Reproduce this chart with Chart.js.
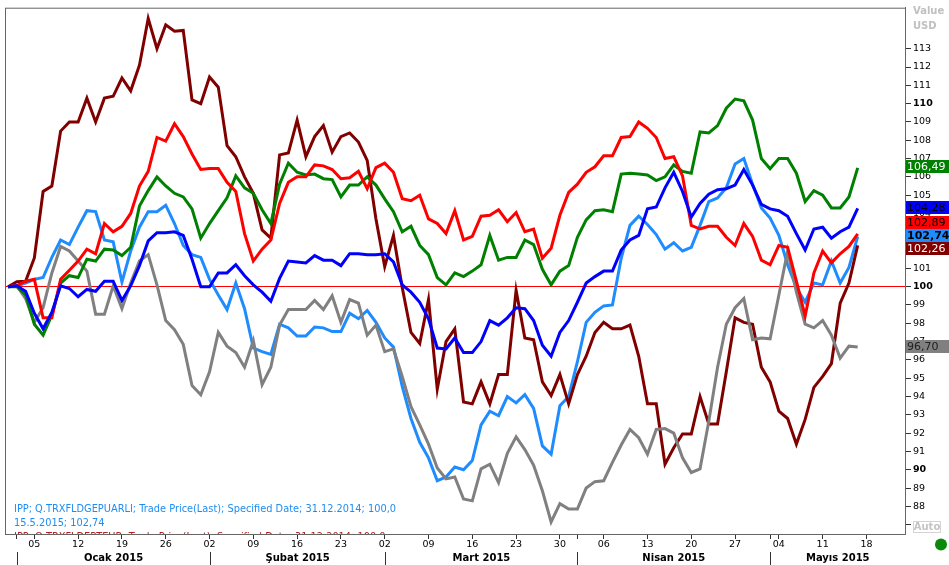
<!DOCTYPE html>
<html>
<head>
<meta charset="utf-8">
<script src="https://cdn.jsdelivr.net/npm/chart.js@4.4.0/dist/chart.umd.min.js"></script>
<style>
  html, body { margin: 0; padding: 0; background: #fff; overflow: hidden; }
  canvas { display: block; }
</style>
</head>
<body>
<canvas id="chart-ipp" width="949" height="565"></canvas>
<script>
// ---- data: one value per business day, 31.12.2014 .. 15.5.2015 (index 0..97) ----
const lightBlue = [100, 100.05, 100.2, 100.4, 100.5, 101.6, 102.55, 102.3, 103.25, 104.15,
  104.1, 102.55, 102.45, 100.25, 101.95, 103.25, 104.1, 104.1, 104.45, 103.45,
  102.25, 101.75, 101.6, 100.4, 99.55, 98.75, 100.2, 98.8, 96.65, 96.45,
  96.3, 97.95, 97.75, 97.3, 97.3, 97.8, 97.75, 97.55, 97.55, 98.55,
  98.25, 98.7, 98.05, 97.2, 96.7, 94.55, 92.8, 91.5, 90.65, 89.4,
  89.6, 90.15, 90.0, 90.5, 92.45, 93.2, 92.95, 94.0, 93.65, 94.1,
  93.35, 91.3, 90.85, 93.5, 94.0, 95.9, 98.05, 98.6, 98.95, 99.0,
  101.55, 103.35, 103.85, 103.4, 102.85, 102.05, 102.4, 101.95, 102.15, 103.35,
  104.65, 104.85, 105.4, 106.7, 107.0, 105.6, 104.3, 103.75, 102.8, 101.2,
  99.95, 99.15, 100.2, 100.1, 101.4, 100.2, 101.05, 102.74];

const maroon = [100, 100.27, 100.3, 101.57, 105.2, 105.5, 108.5, 109, 109, 110.3,
  109, 110.3, 110.4, 111.4, 110.7, 112.1, 114.65, 113.0, 114.3, 113.95,
  114.0, 110.2, 110.0, 111.45, 110.9, 107.7, 107.1, 106.0, 105.1, 103.1,
  102.65, 107.2, 107.3, 109.1, 107.1, 108.2, 108.8, 107.35, 108.2, 108.4,
  107.9, 106.9, 103.7, 101.1, 102.8, 99.95, 97.5, 96.9, 99.3, 94.4,
  97.0, 97.7, 93.7, 93.6, 94.8, 93.6, 95.2, 95.2, 99.8, 97.2,
  97.1, 94.8, 94.05, 95.2, 93.6, 95.2, 96.2, 97.5, 98.05, 97.7,
  97.7, 97.9, 96.2, 93.6, 93.6, 90.3, 91.2, 91.95, 91.95, 94.0,
  92.5, 92.5, 95.35, 98.3, 98.05, 97.95, 95.6, 94.8, 93.2, 92.8,
  91.4, 92.75, 94.5, 95.1, 95.8, 99.1, 100.2, 102.26];

const red = [100, 100.05, 100.3, 100.4, 98.3, 98.3, 100.4, 100.9, 101.4, 102.05,
  101.8, 103.45, 103.0, 103.3, 104.0, 105.5, 106.3, 108.15, 107.95, 108.9,
  108.2, 107.25, 106.4, 106.45, 106.45, 105.7, 105.2, 102.9, 101.4, 102.05,
  102.55, 104.55, 105.7, 106.0, 106.0, 106.65, 106.6, 106.4, 105.9, 105.95,
  106.3, 105.35, 106.5, 106.75, 106.25, 104.8, 104.7, 105.0, 103.7, 103.45,
  102.9, 104.15, 102.55, 102.75, 103.85, 103.9, 104.2, 103.55, 104.05, 103.0,
  103.15, 101.55, 102.1, 103.9, 105.15, 105.6, 106.25, 106.55, 107.15, 107.15,
  108.15, 108.2, 109.0, 108.65, 108.15, 107.0, 107.1, 106.05, 103.35, 103.15,
  103.3, 103.3, 102.7, 102.25, 103.45, 102.75, 101.45, 101.2, 102.25, 102.15,
  100.3, 98.4, 100.75, 101.95, 101.3, 101.8, 102.2, 102.89];

const green = [100, 100, 99.55, 97.95, 97.35, 98.45, 100.2, 100.6, 100.5, 101.5,
  101.4, 102.05, 102.0, 101.7, 102.15, 104.4, 105.25, 106.0, 105.5, 105.1,
  104.9, 104.25, 102.65, 103.45, 104.15, 104.85, 106.05, 105.4, 105.1, 104.2,
  103.45, 105.6, 106.75, 106.25, 106.1, 106.15, 105.9, 105.85, 104.9, 105.55,
  105.55, 106.0, 105.55, 104.8, 104.1, 103.0, 103.3, 102.25, 101.75, 100.5,
  100.1, 100.75, 100.55, 100.85, 101.2, 102.8, 101.45, 101.6, 101.6, 102.55,
  102.3, 100.95, 100.1, 100.85, 101.15, 102.7, 103.65, 104.15, 104.2, 104.1,
  106.15, 106.2, 106.15, 106.1, 105.8, 106.0, 106.65, 106.3, 106.2, 108.45,
  108.4, 108.8, 109.75, 110.25, 110.15, 109.1, 107.0, 106.45, 107.0, 107.0,
  106.2, 104.65, 105.25, 105.0, 104.3, 104.3, 104.9, 106.49];

const blue = [100, 100.05, 99.75, 98.55, 97.7, 98.6, 100.05, 99.9, 99.45, 99.85,
  99.75, 100.3, 100.3, 99.25, 100.05, 101.15, 102.5, 102.95, 102.95, 103.0,
  102.8, 101.5, 100.0, 100.0, 100.75, 100.75, 101.2, 100.6, 100.1, 99.7,
  99.2, 100.45, 101.4, 101.35, 101.3, 101.7, 101.45, 101.45, 101.15, 101.8,
  101.8, 101.75, 101.75, 101.8, 101.35, 100.1, 99.7, 99.15, 98.25, 96.65,
  96.6, 97.2, 96.4, 96.4, 97.0, 98.15, 97.9, 98.3, 98.85, 98.8,
  98.15, 96.8, 96.2, 97.5, 98.15, 99.15, 100.2, 100.55, 100.85, 100.85,
  102.0, 102.55, 102.8, 104.25, 104.35, 105.4, 106.25, 105.2, 103.8, 104.55,
  105.05, 105.3, 105.35, 105.55, 106.4, 105.55, 104.5, 104.25, 104.15, 103.85,
  102.9, 102.0, 103.15, 103.25, 102.65, 103.0, 103.25, 104.28];

const gray = [100, 100.05, 99.35, 98.05, 98.85, 100.75, 102.2, 101.95, 101.4, 100.85,
  98.5, 98.5, 100.05, 98.8, 100.2, 101.4, 101.75, 100.1, 98.15, 97.65,
  96.85, 94.6, 94.1, 95.35, 97.5, 96.75, 96.4, 95.6, 97.05, 94.65,
  95.6, 97.9, 98.75, 98.75, 98.75, 99.25, 98.75, 99.5, 98.05, 99.3,
  99.1, 97.35, 97.9, 96.45, 96.6, 95.1, 93.45, 92.45, 91.4, 90.1,
  89.5, 89.6, 88.4, 88.3, 90.05, 90.3, 89.3, 90.9, 91.8, 91.1,
  90.25, 88.85, 87.15, 88.15, 87.85, 87.85, 89.0, 89.35, 89.4, 90.4,
  91.35, 92.2, 91.75, 90.85, 92.2, 92.25, 92.0, 90.65, 89.85, 90.05,
  92.65, 95.6, 97.95, 98.85, 99.35, 97.1, 97.2, 97.15, 99.55, 101.95,
  99.7, 97.95, 97.75, 98.15, 97.35, 96.1, 96.75, 96.70];

// x axis: Mondays (labelled) and first business day of each month
const mondayIdx = [3, 8, 13, 18, 23, 28, 33, 38, 43, 48, 53, 58, 63, 68, 73, 78, 83, 88, 93, 98];
const dayLabels = ['05', '12', '19', '26', '02', '09', '16', '23', '02', '09', '16', '23', '30', '06', '13', '20', '27', '04', '11', '18'];
const monthStartIdx = [1, 23, 43, 65, 87];
const monthNames = ['Ocak 2015', 'Şubat 2015', 'Mart 2015', 'Nisan 2015', 'Mayıs 2015'];

// y axis
const yTicks = [87, 88, 89, 90, 91, 92, 93, 94, 95, 96, 97, 98, 99, 100, 101, 102, 103, 104, 105, 106, 107, 108, 109, 110, 111, 112, 113];

const legendLines = [
  'IPP; Q.TRXFLDGEPUARLI; Trade Price(Last); Specified Date; 31.12.2014; 100,0',
  '15.5.2015; 102,74',
  'IPP; Q.TRXFLDEPTEUR; Trade Price(Last); Specified Date; 31.12.2014; 100,0'
];

const FONT = "'DejaVu Sans', sans-serif";
Chart.defaults.font.family = FONT;

// series styling (order: lower = drawn on top)
const series = [
  { data: blue, color: '#0000ff', text: '#000000', order: 1 },
  { data: red, color: '#ff0000', text: '#000000', order: 2 },
  { data: green, color: '#008000', text: '#ffffff', order: 3 },
  { data: gray, color: '#808080', text: '#202020', order: 4 },
  { data: maroon, color: '#800000', text: '#ffffff', order: 5 },
  { data: lightBlue, color: '#1e8cff', text: '#000000', order: 6, main: true }
];

const fmt = v => v.toFixed(2).replace('.', ',');

// ---- extra drawing: frame, month row, legend text, value boxes ----
const decor = {
  id: 'decor',
  beforeDatasetsDraw(chart) {
    const { ctx, chartArea: a } = chart;
    ctx.save();
    ctx.beginPath();
    ctx.rect(a.left, a.top, a.right - a.left, a.bottom - a.top);
    ctx.clip();
    ctx.font = '9.8px ' + FONT;
    ctx.textBaseline = 'middle';
    ctx.textAlign = 'left';
    ctx.fillStyle = '#1e8cf0';
    ctx.fillText(legendLines[0], 14, 509.5);
    ctx.fillText(legendLines[1], 14, 523);
    ctx.fillStyle = '#b02020';
    ctx.fillText(legendLines[2], 14, 537.5);
    ctx.restore();
  },
  afterDraw(chart) {
    const { ctx, chartArea: a } = chart;
    const xs = chart.scales.x, ys = chart.scales.y;
    ctx.save();

    // frame
    ctx.strokeStyle = '#666';
    ctx.lineWidth = 1;
    ctx.strokeRect(a.left + 0.5, a.top + 0.5, a.right - a.left, a.bottom - a.top);

    // month row
    ctx.strokeStyle = '#333';
    ctx.fillStyle = '#000';
    ctx.font = 'bold 10px ' + FONT;
    ctx.textAlign = 'center';
    ctx.textBaseline = 'middle';
    monthStartIdx.forEach((idx, k) => {
      const x0 = Math.round(xs.getPixelForValue(idx)) + 0.5;
      ctx.beginPath();
      ctx.moveTo(x0, 552);
      ctx.lineTo(x0, 565);
      ctx.stroke();
      const x1 = k + 1 < monthStartIdx.length ? xs.getPixelForValue(monthStartIdx[k + 1]) : a.right;
      ctx.fillText(monthNames[k], (x0 + x1) / 2, 558.5);
    });

    // last-value boxes on the right axis
    const boxH = 13;
    const items = series.map(s => {
      const v = s.data[s.data.length - 1];
      return { s, v, y: ys.getPixelForValue(v) };
    });
    const main = items.find(it => it.s.main);
    const placed = [main];
    items.filter(it => !it.s.main)
      .sort((p, q) => Math.abs(p.y - main.y) - Math.abs(q.y - main.y))
      .forEach(it => {
        let moved = true, guard = 0;
        while (moved && guard++ < 10) {
          moved = false;
          for (const p of placed) {
            if (Math.abs(it.y - p.y) < boxH) {
              it.y = it.v > p.v ? p.y - boxH : p.y + boxH;
              moved = true;
            }
          }
        }
        placed.push(it);
      });
    placed.forEach(it => {
      const top = Math.round(it.y - boxH / 2) - 1;
      ctx.fillStyle = it.s.color;
      ctx.fillRect(a.right + 1, top, chart.width - a.right - 1, boxH);
      ctx.fillStyle = it.s.text;
      ctx.font = (it.s.main ? 'bold ' : '') + '11px ' + FONT;
      ctx.textAlign = 'left';
      ctx.textBaseline = 'middle';
      ctx.fillText(fmt(it.v), a.right + 2, top + boxH / 2 + 0.5);
    });

    // axis caption
    ctx.fillStyle = '#c0c0c0';
    ctx.font = 'bold 10px ' + FONT;
    ctx.textAlign = 'left';
    ctx.fillText('Value', 913, 11.5);
    ctx.fillText('USD', 913, 26);

    // "Auto" box
    ctx.strokeStyle = '#d4d4d4';
    ctx.strokeRect(913.5, 521.5, 27, 11);
    ctx.fillStyle = '#c4c4c4';
    ctx.textAlign = 'center';
    ctx.fillText('Auto', 927, 527.5);

    // status dot
    ctx.fillStyle = '#0a8a0a';
    ctx.beginPath();
    ctx.arc(941, 544.5, 6, 0, Math.PI * 2);
    ctx.fill();

    ctx.restore();
  }
};

new Chart(document.getElementById('chart-ipp'), {
  type: 'line',
  data: {
    datasets: series.map(s => ({
      data: s.data.map((v, i) => ({ x: i, y: v })),
      borderColor: s.color,
      backgroundColor: s.color,
      borderWidth: 3,
      pointRadius: 0,
      tension: 0,
      order: s.order
    }))
  },
  options: {
    responsive: false,
    animation: false,
    devicePixelRatio: 1,
    layout: { padding: { left: 5, top: 2, right: 0, bottom: 0 } },
    plugins: { legend: { display: false }, tooltip: { enabled: false } },
    scales: {
      x: {
        type: 'linear',
        position: 'bottom',
        min: -0.35,
        max: 102.4,
        afterFit(s) { s.height = 31; },
        afterBuildTicks(s) {
          s.ticks = [...mondayIdx, ...monthStartIdx.filter(i => !mondayIdx.includes(i))]
            .sort((p, q) => p - q).map(v => ({ value: v }));
        },
        ticks: {
          autoSkip: false,
          maxRotation: 0,
          padding: 0,
          color: '#000',
          font: { size: 9.5 },
          callback: v => {
            const k = mondayIdx.indexOf(v);
            return k >= 0 ? dayLabels[k] : '';
          }
        },
        grid: { drawOnChartArea: false, drawTicks: true, tickLength: 5, tickColor: '#333' },
        border: { color: '#666' }
      },
      y: {
        type: 'linear',
        position: 'right',
        min: 86.49,
        max: 115.24,
        afterFit(s) { s.width = 44; },
        afterBuildTicks(s) { s.ticks = yTicks.map(v => ({ value: v })); },
        ticks: {
          padding: 2,
          color: '#000',
          font: ctx => ({ size: 9.5, weight: ctx.tick && ctx.tick.value % 10 === 0 ? 'bold' : 'normal' }),
          callback: v => (v === 87 ? '' : String(v))
        },
        grid: {
          drawOnChartArea: true,
          tickLength: 6,
          tickColor: '#333',
          color: ctx => (ctx.tick && ctx.tick.value === 100 ? '#ff0000' : 'rgba(0,0,0,0)')
        },
        border: { color: '#666' }
      }
    }
  },
  plugins: [decor]
});
</script>
</body>
</html>
